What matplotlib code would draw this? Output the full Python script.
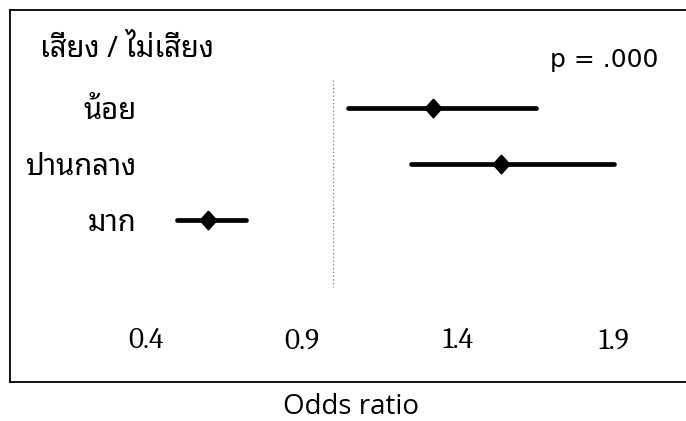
import numpy as np
import matplotlib
matplotlib.use("Agg")
import matplotlib.pyplot as plt

# data
groups = ['น้อย', 'ปานกลาง', 'มาก']
odds = [1.32, 1.54, 0.60]
ci_low = [1.05, 1.25, 0.50]
ci_high = [1.65, 1.90, 0.72]
xticks = [0.4, 0.9, 1.4, 1.9]
header = 'เสี่ยง / ไม่เสี่ยง'
p_text = 'p = .000'
ref_line = 1.0

thai_font = ['Noto Sans Thai Looped', 'Noto Sans Thai', 'Noto Sans']
num_font = ['Caladea', 'Liberation Serif']

# slightly tall diamond, like the original marker
diamond = [(0, 1), (0.9, 0), (0, -1), (-0.9, 0), (0, 1)]

fig = plt.figure(figsize=(6.86, 4.21), dpi=100)
# frame box from (10, 10) to right edge, bottom at y=382 px
ax = fig.add_axes([10 / 686, 39 / 421, 676 / 686, 372 / 421])

y = np.arange(len(groups))
ax.hlines(y, ci_low, ci_high, color='black', lw=3.4, capstyle='round', zorder=3)
ax.plot(odds, y, ls='none', marker=diamond, ms=13.5, color='black', zorder=4)

# dotted reference line at OR = 1
ax.vlines(ref_line, -0.5, 3.2, color='#777777', lw=0.9, ls=(0, (1, 2)), zorder=1)

ax.set_xlim(-0.035, 2.132)
ax.set_ylim(4.9, -1.75)

ax.set_xticks(xticks)
ax.set_xticklabels([f'{v:.1f}' for v in xticks], family=num_font, fontsize=21)
ax.tick_params(axis='x', length=0, pad=-39)

ax.set_yticks(y)
ax.set_yticklabels(groups, family=thai_font, fontsize=21)
ax.tick_params(axis='y', length=0, pad=-91)

for s in ax.spines.values():
    s.set_linewidth(1.3)
ax.spines['right'].set_visible(False)

ax.text(30 / 676, 0.895, header, transform=ax.transAxes, family=thai_font,
        fontsize=21, fontweight='semibold', ha='left', va='center')
ax.text(648 / 676, 0.866, p_text, transform=ax.transAxes, family=['DejaVu Sans'],
        fontsize=18, ha='right', va='center')

fig.text(351 / 686, 1 - 407 / 421, 'Odds ratio', family=['Open Sans', 'Noto Sans'],
         fontsize=20, ha='center', va='center')

fig.savefig('out.png', dpi=100)
